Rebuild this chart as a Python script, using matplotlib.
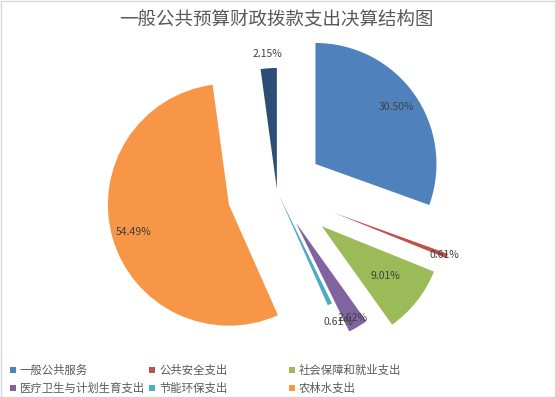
"""Pie chart of the general public budget expenditure structure."""
import matplotlib
matplotlib.use("Agg")
import matplotlib.pyplot as plt
from matplotlib.patches import Rectangle

plt.rcParams["font.family"] = ["Noto Sans CJK SC", "DejaVu Sans"]

# data (percent of total), clockwise from 12 o'clock
categories = ["一般公共服务", "公共安全支出", "社会保障和就业支出",
              "医疗卫生与计划生育支出", "节能环保支出", "农林水支出", "住房保障支出"]
shares = [30.50, 0.61, 9.01, 2.62, 0.61, 54.49, 2.15]
# only the first six appear in the legend of the original chart
legend_count = 6

# styles
colors = ["#4F81BD", "#C0504D", "#9BBB59", "#8064A2", "#4BACC6", "#F79646", "#2C4D75"]
explode_px = [47, 61, 57, 37, 4, 50, 2]
label_dist = [0.82, 0.98, 0.67, 0.92, 1.16, 0.82, 1.12]

W, H = 555, 397
fig = plt.figure(figsize=(W / 100, H / 100), dpi=100)
ax = fig.add_axes([0, 0, 1, 1])

radius = 121
wedges, _ = ax.pie(shares, explode=explode_px, colors=colors, radius=radius,
                   center=(277, H - 191), startangle=90, counterclock=False,
                   wedgeprops=dict(linewidth=0))
ax.set_xlim(0, W)
ax.set_ylim(0, H)
ax.set_aspect("equal")
ax.axis("off")

import math
for w, v, f in zip(wedges, shares, label_dist):
    mid = math.radians((w.theta1 + w.theta2) / 2)
    cx, cy = w.center
    ax.text(cx + f * w.r * math.cos(mid), cy + f * w.r * math.sin(mid),
            f"{v:.2f}%", ha="center", va="center", fontsize=7.5, color="#404040")

fig.text(276.5 / W, 1 - 20 / H, "一般公共预算财政拨款支出决算结构图",
         ha="center", va="center", fontsize=13.3, color="#595959")

# legend, laid out row by row like the original
col_x = [10, 149, 289]
row_y = [370, 388]
for i in range(legend_count):
    x = col_x[i % 3]
    y = row_y[i // 3]
    fig.patches.append(Rectangle((x / W, 1 - (y + 3) / H), 6 / W, 6 / H,
                                 transform=fig.transFigure, facecolor=colors[i],
                                 edgecolor="none"))
    fig.text((x + 10) / W, 1 - y / H, categories[i], ha="left", va="center",
             fontsize=8.2, color="#595959")

# chart-area border
fig.patches.append(Rectangle((0.5 / W, 0.5 / H), 1 - 1 / W, 1 - 1 / H,
                             transform=fig.transFigure, fill=False,
                             edgecolor="#D9D9D9", linewidth=1))

fig.savefig("out.png", dpi=100)
